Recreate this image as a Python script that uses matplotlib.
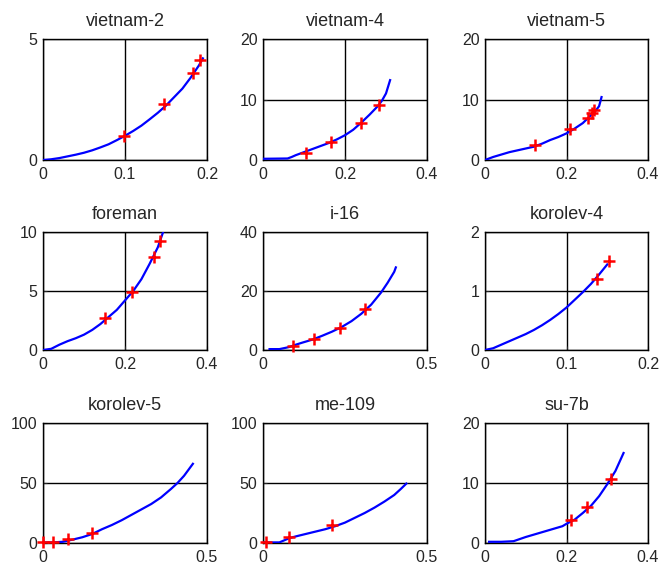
import matplotlib
matplotlib.use("Agg")
import matplotlib.pyplot as plt

plt.rcParams['font.family'] = ['Liberation Sans', 'DejaVu Sans']

titles = ["vietnam-2", "vietnam-4", "vietnam-5",
          "foreman", "i-16", "korolev-4",
          "korolev-5", "me-109", "su-7b"]

xlims = [0.2, 0.4, 0.4, 0.4, 0.5, 0.2, 0.5, 0.5, 0.4]
ylims = [5, 20, 20, 10, 40, 2, 100, 100, 20]
xticks = [[0, 0.1, 0.2], [0, 0.2, 0.4], [0, 0.2, 0.4],
          [0, 0.2, 0.4], [0, 0.5], [0, 0.1, 0.2],
          [0, 0.5], [0, 0.5], [0, 0.2, 0.4]]
yticks = [[0, 5], [0, 10, 20], [0, 10, 20],
          [0, 5, 10], [0, 20, 40], [0, 1, 2],
          [0, 50, 100], [0, 50, 100], [0, 10, 20]]
xticklabels = [["0", "0.1", "0.2"], ["0", "0.2", "0.4"], ["0", "0.2", "0.4"],
               ["0", "0.2", "0.4"], ["0", "0.5"], ["0", "0.1", "0.2"],
               ["0", "0.5"], ["0", "0.5"], ["0", "0.2", "0.4"]]

# blue curves (x, y)
curve_x = [
    [0, 0.01, 0.02, 0.03, 0.04, 0.05, 0.06, 0.07, 0.08, 0.09, 0.1,
     0.11, 0.12, 0.13, 0.14, 0.15, 0.16, 0.17, 0.18, 0.19, 0.195],
    [0, 0.06, 0.07, 0.08, 0.1, 0.12, 0.14, 0.16, 0.18, 0.2, 0.22,
     0.24, 0.26, 0.28, 0.29, 0.3, 0.31],
    [0, 0.02, 0.04, 0.06, 0.08, 0.1, 0.12, 0.14, 0.16, 0.18, 0.2,
     0.22, 0.24, 0.26, 0.27, 0.28, 0.286],
    [0, 0.02, 0.04, 0.06, 0.08, 0.1, 0.12, 0.14, 0.16, 0.18, 0.2,
     0.22, 0.24, 0.26, 0.28, 0.293],
    [0.02, 0.05, 0.08, 0.1, 0.12, 0.15, 0.18, 0.21, 0.24, 0.27, 0.3,
     0.33, 0.36, 0.38, 0.4, 0.405],
    [0, 0.01, 0.02, 0.03, 0.04, 0.05, 0.06, 0.07, 0.08, 0.09, 0.1,
     0.11, 0.12, 0.13, 0.14, 0.15],
    [0.0, 0.03, 0.06, 0.09, 0.12, 0.15, 0.18, 0.21, 0.24, 0.27, 0.3,
     0.33, 0.36, 0.39, 0.41, 0.43, 0.457],
    [0.005, 0.05, 0.08, 0.1, 0.13, 0.16, 0.19, 0.22, 0.25, 0.28, 0.31,
     0.34, 0.37, 0.4, 0.42, 0.437],
    [0.01, 0.04, 0.07, 0.1, 0.13, 0.16, 0.19, 0.2, 0.22, 0.24, 0.26,
     0.28, 0.3, 0.32, 0.34],
]
curve_y = [
    [0, 0.03, 0.08, 0.15, 0.22, 0.3, 0.4, 0.52, 0.65, 0.82, 1.0,
     1.2, 1.42, 1.68, 1.95, 2.25, 2.6, 2.95, 3.4, 3.9, 4.2],
    [0.2, 0.25, 0.5, 0.8, 1.3, 1.8, 2.3, 2.8, 3.4, 4.1, 5.0,
     6.2, 7.5, 8.9, 9.8, 11.0, 13.2],
    [0, 0.5, 0.9, 1.3, 1.6, 1.9, 2.2, 2.7, 3.3, 3.8, 4.4,
     5.2, 6.1, 7.4, 8.0, 8.9, 10.4],
    [0, 0.1, 0.45, 0.75, 1.0, 1.3, 1.7, 2.2, 2.8, 3.4, 4.2,
     5.0, 6.0, 7.3, 8.7, 10.0],
    [0.3, 0.3, 1.0, 1.8, 2.5, 3.5, 4.8, 6.2, 7.8, 9.8, 12.3,
     15.4, 19.5, 22.8, 26.5, 28.0],
    [0, 0.03, 0.09, 0.15, 0.21, 0.27, 0.34, 0.42, 0.51, 0.61, 0.72,
     0.85, 0.98, 1.12, 1.28, 1.45],
    [0.5, 0.5, 1.0, 2.8, 4.8, 7.5, 11.5, 15.0, 19.0, 23.5, 28.0,
     32.5, 38.0, 45.0, 50.0, 56.0, 66.0],
    [0.5, 0.5, 4.0, 5.5, 7.5, 9.5, 11.5, 14.0, 17.0, 21.0, 25.0,
     29.5, 34.5, 40.0, 45.0, 49.5],
    [0.2, 0.2, 0.3, 1.0, 1.6, 2.2, 2.8, 3.2, 3.9, 5.0, 6.2,
     7.8, 9.8, 12.0, 15.0],
]

# red markers
mark_x = [
    [0.099, 0.148, 0.183, 0.192],
    [0.104, 0.165, 0.238, 0.283],
    [0.122, 0.208, 0.253, 0.262, 0.267],
    [0.152, 0.218, 0.27, 0.285],
    [0.09, 0.157, 0.236, 0.31],
    [0.138, 0.152],
    [0.0, 0.03, 0.075, 0.15],
    [0.01, 0.08, 0.21],
    [0.21, 0.25, 0.31],
]
mark_y = [
    [1.0, 2.3, 3.6, 4.15],
    [1.2, 2.9, 6.1, 9.1],
    [2.4, 5.1, 7.0, 7.7, 8.2],
    [2.7, 4.9, 7.9, 9.2],
    [1.3, 3.8, 7.6, 13.8],
    [1.2, 1.5],
    [1.0, 1.0, 3.0, 8.0],
    [0.5, 5.0, 15.0],
    [3.9, 6.0, 10.6],
]

W, H = 661, 569
fig = plt.figure(figsize=(W / 100, H / 100), dpi=100)

lefts = [43, 263, 485]
rights = [207, 427, 648]
tops = [39, 232, 423]
bottoms = [160, 350, 543]

for i in range(9):
    r, c = divmod(i, 3)
    l, rr = lefts[c], rights[c]
    t, b = tops[r], bottoms[r]
    ax = fig.add_axes([l / W, 1 - b / H, (rr - l) / W, (b - t) / H])
    ax.plot(curve_x[i], curve_y[i], color='#0000ff', lw=1.6, zorder=3)
    ax.plot(mark_x[i], mark_y[i], linestyle='none', marker='+', color='#ff0000',
            ms=8, mew=1.8, zorder=4, clip_on=False)
    ax.set_xlim(0, xlims[i])
    ax.set_ylim(0, ylims[i])
    ax.set_xticks(xticks[i])
    ax.set_xticklabels(xticklabels[i])
    ax.set_yticks(yticks[i])
    ax.set_yticklabels([str(v) for v in yticks[i]])
    ax.grid(True, color='black', linestyle='-', linewidth=1.0)
    ax.set_axisbelow(True)
    ax.tick_params(direction='in', length=3, labelsize=11.5, colors='#262626')
    ax.tick_params(axis='x', pad=5)
    ax.tick_params(axis='y', pad=4)
    for s in ax.spines.values():
        s.set_linewidth(1.0)
        s.set_color('black')
    ax.set_title(titles[i], fontsize=13, pad=9, color='#262626')

fig.savefig("out.png", dpi=100)
